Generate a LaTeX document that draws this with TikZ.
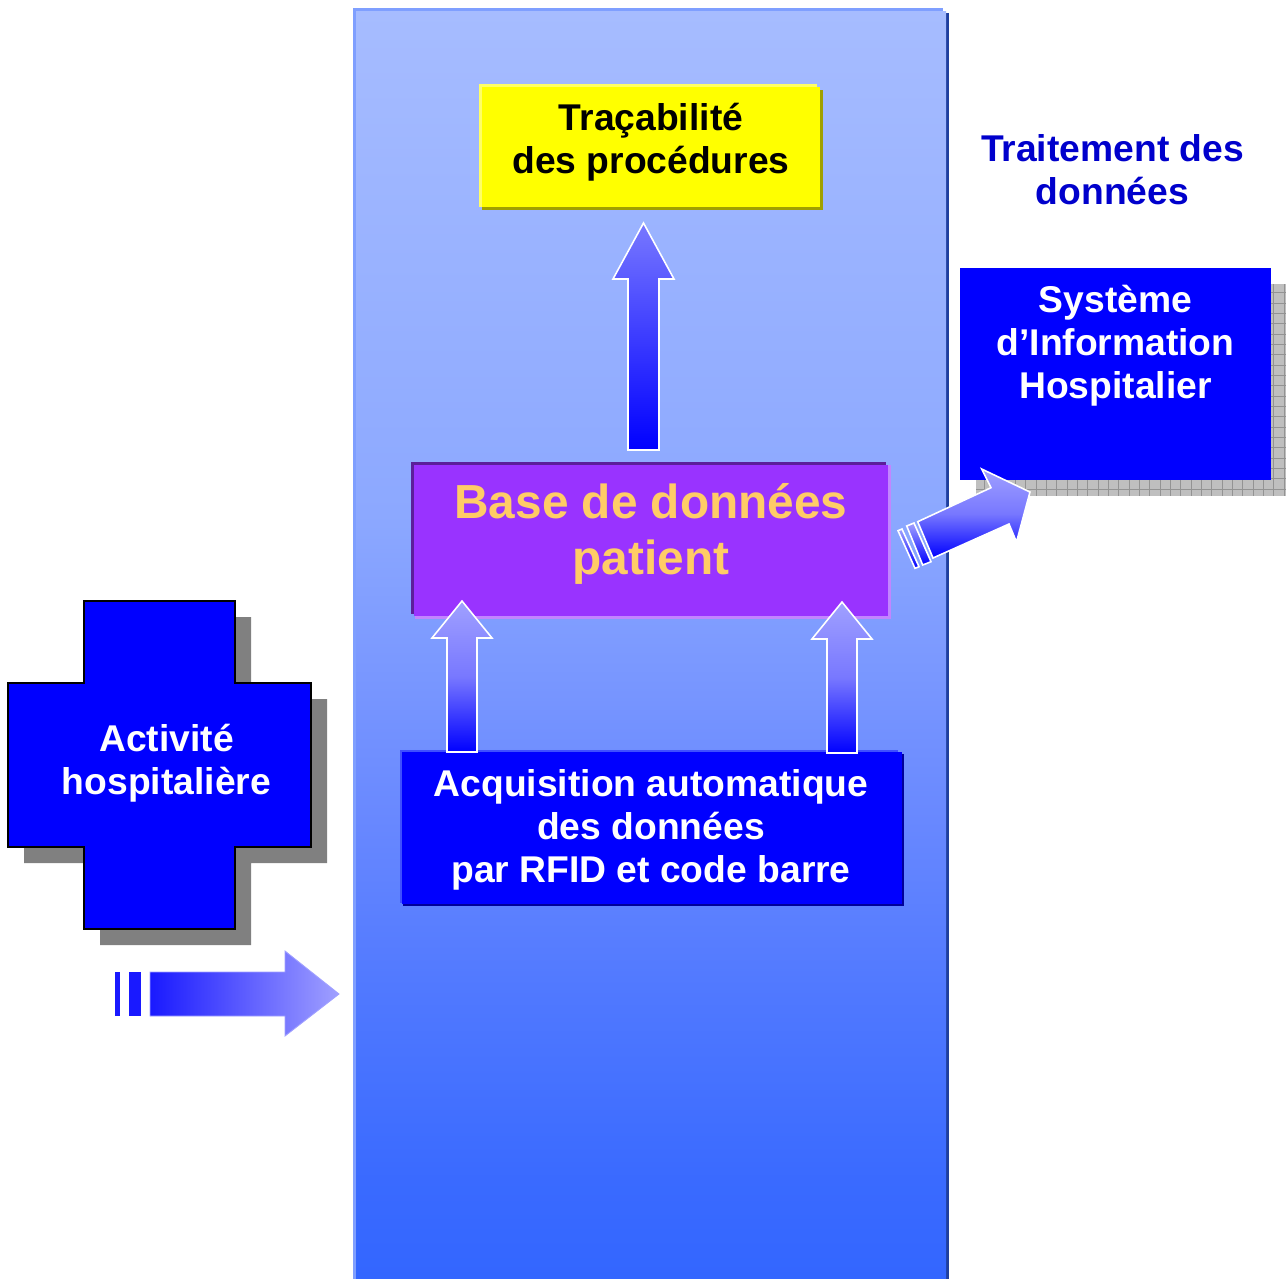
\documentclass[tikz,border=0pt]{standalone}
\usepackage{fontspec}
\setmainfont{Liberation Sans}
\definecolor{panelEdge}{HTML}{7F9FFF}
\definecolor{panelDark}{HTML}{1F3F9F}
\definecolor{arrowLight}{HTML}{A0A0FF}
\definecolor{arrowMid}{HTML}{7878FF}
\definecolor{pureBlue}{HTML}{0000FF}
\definecolor{pureYellow}{HTML}{FFFF00}
\definecolor{yellowLight}{HTML}{FFFF66}
\definecolor{yellowDark}{HTML}{A0A000}
\definecolor{baseFill}{HTML}{9933FF}
\definecolor{baseDark}{HTML}{5C1F99}
\definecolor{baseLight}{HTML}{C285FF}
\definecolor{baseText}{HTML}{FFCC66}
\definecolor{titleBlue}{HTML}{0000CC}
\definecolor{acqLight}{HTML}{3F4FFF}
\definecolor{acqDark}{HTML}{000099}
\pgfdeclareverticalshading{panelshade}{100bp}{
  rgb(0bp)=(0.2,0.4,1);
  rgb(25bp)=(0.2,0.4,1);
  rgb(28.9bp)=(0.227,0.416,1);
  rgb(36bp)=(0.31,0.47,1);
  rgb(43.1bp)=(0.408,0.533,1);
  rgb(55.15bp)=(0.549,0.659,1);
  rgb(75bp)=(0.651,0.737,1);
  rgb(100bp)=(0.651,0.737,1)}
\tikzset{
  label21/.style={font=\fontsize{21.2}{24.5}\selectfont\bfseries,align=center,inner sep=0pt},
  label27/.style={font=\fontsize{27.2}{32}\selectfont\bfseries,align=center,inner sep=0pt},
  uparrow/.style={draw=white,line width=0.9pt,bottom color=pureBlue,top color=arrowLight,middle color=arrowMid},
  slant/.style={draw=white,line width=0.9pt,shading angle=25,top color=arrowLight,bottom color=pureBlue},
}
\begin{document}
\begin{tikzpicture}[x=0.02cm,y=-0.02cm]
  \useasboundingbox (0,0) rectangle (1286,1279);
  % colonne centrale
  \fill[panelDark] (946,13) rectangle (949,1279);
  \fill[panelEdge] (353,8) rectangle (943,1279);
  \shade[shading=panelshade] (356,11) rectangle (946,1279);
  % boite jaune
  \fill[yellowLight] (479,84) rectangle (817,207);
  \fill[yellowDark] (482,90) rectangle (823,210);
  \fill[pureYellow] (482,87) rectangle (820,207);
  \node[label21,text=black] (tracabilite) at (651,142.5) {Traçabilité\\des procédures};
  % base de donnees
  \fill[baseDark] (411,462) rectangle (886,614);
  \fill[baseLight] (415,465) rectangle (891,619);
  \fill[baseFill] (414,465) rectangle (888,616);
  \node[label27,text=baseText] (base) at (651,534) {Base de données\\patient};
  % acquisition
  \fill[acqDark] (403,754) rectangle (904,906);
  \fill[acqLight] (400,750) rectangle (898,903);
  \fill[pureBlue] (402,752) rectangle (902,904);
  \node[label21,text=white] (acquisition) at (651,829.5) {Acquisition automatique\\des données\\par RFID et code barre};
  % croix
  \fill[gray] (100,617) -- (251,617) -- (251,699) -- (327,699) -- (327,863) -- (251,863) -- (251,945) -- (100,945) -- (100,863) -- (24,863) -- (24,699) -- (100,699) -- cycle;
  \draw[black,line width=0.9pt,fill=pureBlue] (84,601) -- (235,601) -- (235,683) -- (311,683) -- (311,847) -- (235,847) -- (235,929) -- (84,929) -- (84,847) -- (8,847) -- (8,683) -- (84,683) -- cycle;
  \node[label21,text=white] (activite) at (166.5,763) {Activité\\hospitalière};
  % systeme d'information
  \fill[gray!50] (976,284) rectangle (1286,496);
  \foreach \x in {984.4,994.73,...,1286} \draw[gray!85,line width=0.5pt] (\x,284) -- (\x,496);
  \foreach \y in {292.8,303.13,...,496} \draw[gray!85,line width=0.5pt] (976,\y) -- (1286,\y);
  \fill[pureBlue] (960,268) rectangle (1271,480);
  \node[label21,text=white] (sih) at (1115.5,345.5) {Système\\d’Information\\Hospitalier};
  \node[label21,text=titleBlue] (traitement) at (1112.5,170) {Traitement des\\données};
  % fleches
  \shade[uparrow,draw=none,top color=arrowMid,bottom color=pureBlue] (643.5,223) -- (674,279) -- (659,279) -- (659,450) -- (628,450) -- (628,279) -- (613,279) -- cycle;
  \draw[white,line width=0.9pt] (643.5,223) -- (674,279) -- (659,279) -- (659,450) -- (628,450) -- (628,279) -- (613,279) -- cycle;
  \shade[uparrow] (462,601) -- (492,638) -- (477,638) -- (477,752) -- (447,752) -- (447,638) -- (432,638) -- cycle;
  \shade[uparrow] (842,602) -- (872,639) -- (857,639) -- (857,753) -- (827,753) -- (827,639) -- (812,639) -- cycle;
  % fleche vers la droite
  \shade[draw=arrowLight,line width=0.5pt,left color=pureBlue!90!white,right color=arrowLight] (150,972) -- (285,972) -- (285,951) -- (339,994) -- (285,1036) -- (285,1016) -- (150,1016) -- cycle;
  \fill[pureBlue!90!white] (115,972) rectangle (120,1016);
  \fill[pureBlue!90!white] (129,972) rectangle (141,1016);
  % fleche oblique
  \shade[slant,middle color=arrowMid] (981.7,469) -- (1030,492) -- (1016.5,542) -- (1009,524) -- (933,558) -- (917.7,521.7) -- (991,487.7) -- cycle;
  \shade[slant] (906.7,526) -- (914,523) -- (931,561.7) -- (922.7,565) -- cycle;
  \shade[slant] (898,530.7) -- (902,529) -- (919,566.7) -- (915,568.3) -- cycle;
\end{tikzpicture}
\end{document}
